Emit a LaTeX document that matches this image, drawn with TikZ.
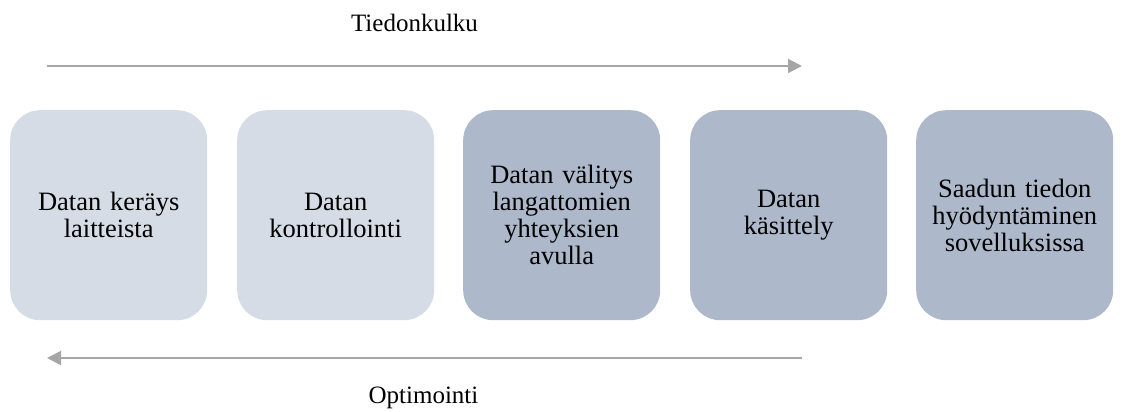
\documentclass[tikz,border=0pt]{standalone}
\usepackage{fontspec}
\setmainfont{Liberation Serif}
\usetikzlibrary{arrows.meta}
\definecolor{boxlight}{HTML}{D6DCE5}
\definecolor{boxdark}{HTML}{ADB9CA}
\definecolor{arrowgray}{HTML}{A6A6A6}
\begin{document}
\begin{tikzpicture}[x=1pt,y=-1pt,
  stepbox/.style={rounded corners=30pt, minimum width=197pt, minimum height=210pt,
    inner sep=0pt, align=center, text width=185pt,
    font=\rmfamily\fontsize{26.5}{27}\selectfont, anchor=north west},
  lightbox/.style={stepbox, fill=boxlight},
  darkbox/.style={stepbox, fill=boxdark},
  flowarrow/.style={draw=arrowgray, line width=2pt, -{Triangle[length=14pt,width=14pt]}},
  flowlabel/.style={font=\rmfamily\fontsize{25}{27}\selectfont, anchor=base, inner sep=0pt}]
\useasboundingbox (0,0) rectangle (1135,412);
\node[lightbox] (b1) at (10,110) {Datan keräys\\laitteista};
\node[lightbox] (b2) at (237,110) {Datan\\kontrollointi};
\node[darkbox] (b3) at (463,110) {Datan välitys\\langattomien\\yhteyksien\\avulla};
\node[darkbox] (b4) at (690,110) {Datan\\käsittely};
\node[darkbox] (b5) at (916,110) {Saadun tiedon\\hyödyntäminen\\sovelluksissa};
\coordinate (t1) at (47,66);
\coordinate (t2) at (802,66);
\coordinate (o1) at (802,358);
\coordinate (o2) at (47,358);
\draw[flowarrow] (t1) -- (t2);
\draw[flowarrow] (o1) -- (o2);
\node[flowlabel] (tl) at (414.5,32) {Tiedonkulku};
\node[flowlabel] (ol) at (423.5,403) {Optimointi};
\end{tikzpicture}
\end{document}
